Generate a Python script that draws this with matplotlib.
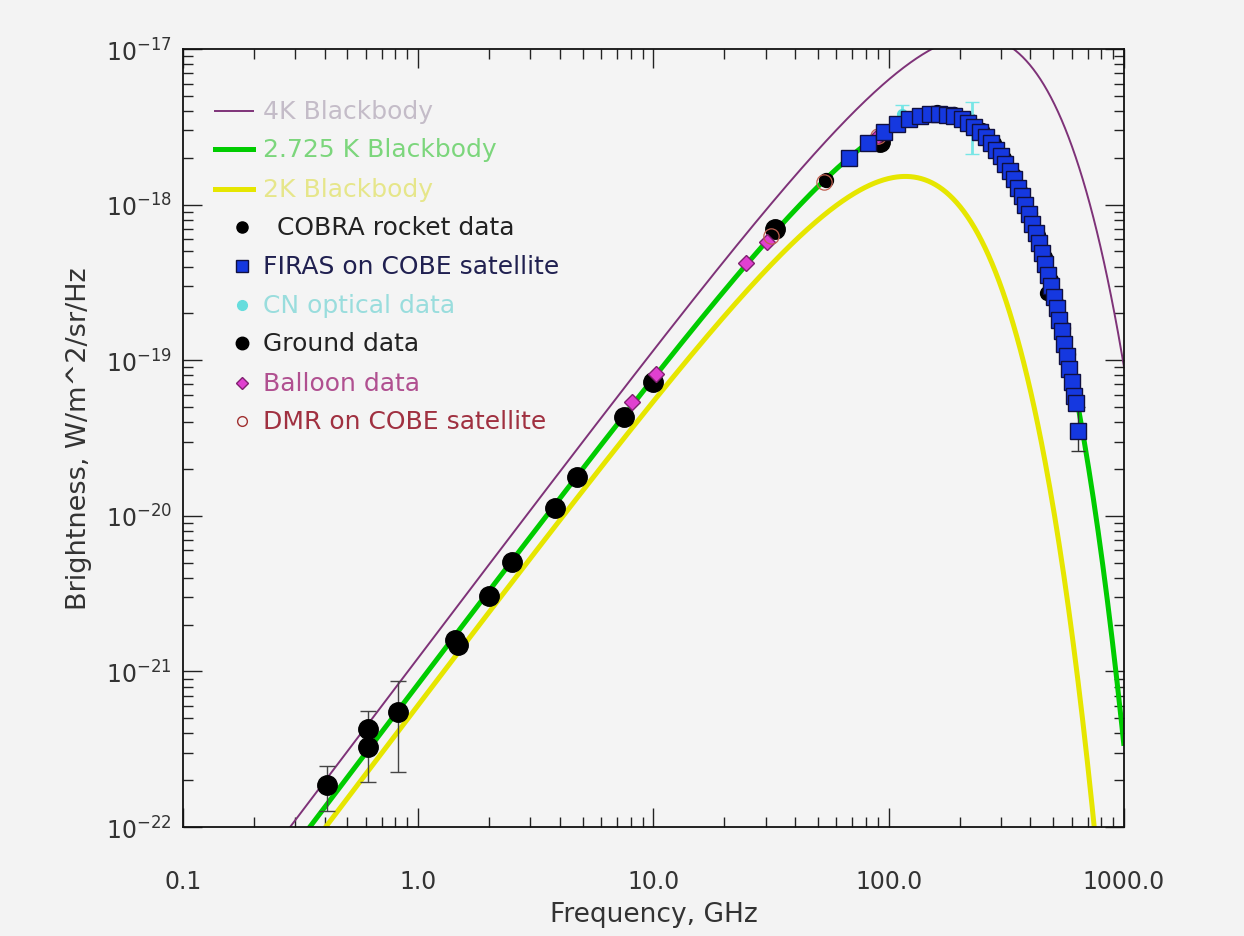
import numpy as np
import matplotlib
matplotlib.use("Agg")
import matplotlib.pyplot as plt
from matplotlib.ticker import FixedLocator, FixedFormatter, LogLocator, NullFormatter

plt.rcParams['font.family'] = ['DejaVu Sans']

# blackbody temperatures (K) for the three curves
temps = [4.0, 2.725, 2.0]
curve_labels = ["4K Blackbody", "2.725 K Blackbody", "2K Blackbody"]
curve_colors = ['#7e3278', '#00cc00', '#e6e600']
curve_widths = [1.4, 3.6, 3.6]

# FIRAS on COBE (GHz, W/m^2/sr/Hz x 1e-20)
firas_f = [68.1, 81.5, 95.3, 108.8, 122.3, 136.1, 149.6, 163.4, 176.9, 190.4,
           204.2, 217.6, 231.1, 244.9, 258.4, 272.2, 285.7, 299.2, 313.0, 326.5,
           340.0, 353.8, 367.2, 381.0, 394.5, 408.0, 421.8, 435.3, 448.8, 462.6,
           476.1, 489.9, 503.4, 516.8, 530.6, 544.1, 557.9, 571.4, 584.9, 598.7,
           612.2, 625.7, 639.5]
firas_b = [200.7, 249.5, 293.0, 327.8, 354.1, 372.1, 381.5, 383.5, 378.9, 368.8,
           354.1, 336.3, 316.1, 293.9, 271.4, 248.2, 225.9, 204.3, 183.3, 163.8,
           145.8, 128.8, 113.6, 99.5, 86.8, 75.6, 65.5, 56.5, 48.6, 41.5,
           35.5, 30.2, 25.6, 21.6, 18.2, 15.3, 12.8, 10.7, 8.8, 7.2,
           5.9, 5.3, 3.5]

# COBRA rocket data
cobra_f = [54, 160, 190, 220, 250, 280, 310, 340, 370, 400, 430, 460, 472, 490, 520, 550, 580]
cobra_b = [145, 395, 382, 348, 300, 250, 200, 156, 118, 88, 64, 46, 27, 33, 23, 16, 11]

# ground data
ground_f = [0.408, 0.61, 0.61, 0.82, 1.44, 1.47, 2.0, 2.5, 3.83, 4.75, 7.5, 10.0, 33.0, 92.0]
ground_b = [0.0187, 0.0427, 0.0327, 0.055, 0.16, 0.148, 0.305, 0.505, 1.12, 1.78, 4.3, 7.2, 70.0, 252.0]
ground_lo = [0.0127, 0.0327, 0.0195, 0.0226, 0.16, 0.148, 0.305, 0.505, 1.12, 1.78, 4.3, 7.2, 70.0, 252.0]
ground_hi = [0.0247, 0.056, 0.0427, 0.087, 0.16, 0.148, 0.305, 0.505, 1.12, 1.78, 4.3, 7.2, 70.0, 252.0]

# balloon data
balloon_f = [8.1, 10.3, 24.8, 30.5, 90.0]
balloon_b = [5.4, 8.1, 42.0, 57.5, 278.0]

# DMR on COBE
dmr_f = [31.5, 53.0, 90.0]
dmr_b = [63.0, 140.0, 275.0]

# CN optical data
cn_f = [113.6, 227.0]
cn_b = [380.0, 300.0]
cn_lo = [330.0, 210.0]
cn_hi = [440.0, 460.0]

scale = 1e-20
h = 6.626e-34
k = 1.381e-23
c = 2.998e8

fig = plt.figure(figsize=(12.44, 9.37), dpi=100, facecolor='#f3f3f3')
ax = fig.add_axes([0.147, 0.1163, 0.7565, 0.8303])
ax.set_facecolor('#f4f4f4')

nu = np.logspace(-1, 3, 800)
for T, col, lw in zip(temps, curve_colors, curve_widths):
    x = h * nu * 1e9 / (k * T)
    B = 2 * h * (nu * 1e9) ** 3 / c ** 2 / np.expm1(x)
    ax.plot(nu, B, color=col, lw=lw, zorder=2, solid_capstyle='butt')

gf = np.array(ground_f)
gb = np.array(ground_b) * scale
ax.errorbar(gf, gb, yerr=[gb - np.array(ground_lo) * scale, np.array(ground_hi) * scale - gb],
            fmt='none', ecolor='#444444', elinewidth=1.0, capsize=6, zorder=3)
ax.plot(cobra_f, np.array(cobra_b) * scale, 'o', color='black', ms=10, zorder=3)
cb = np.array(cn_b) * scale
ax.errorbar(cn_f, cb, yerr=[cb - np.array(cn_lo) * scale, np.array(cn_hi) * scale - cb],
            fmt='o', color='#55dddd', ms=7, ecolor='#77e6e6', elinewidth=2, capsize=5, zorder=3)
ax.plot(ground_f, gb, 'o', color='black', ms=14, zorder=4)
ax.plot(balloon_f, np.array(balloon_b) * scale, 'D', color='#e040d0', mec='#802070',
        ms=8, mew=1, zorder=5)
ax.plot(dmr_f, np.array(dmr_b) * scale, 'o', mfc='none', mec='#c06050', ms=11, mew=0.9, zorder=5)
fb = np.array(firas_b) * scale
ax.errorbar(firas_f[-1], fb[-1], yerr=[[fb[-1] - 2.6e-20], [1.5e-20]], fmt='none',
            ecolor='#333333', elinewidth=1, capsize=5, zorder=5)
ax.plot(firas_f, fb, 's', color='#1538e0', mec='#101040', ms=11.5, mew=1, zorder=6)

ax.set_xscale('log')
ax.set_yscale('log')
ax.set_xlim(0.1, 1000)
ax.set_ylim(1e-22, 1e-17)

ax.xaxis.set_major_locator(FixedLocator([0.1, 1, 10, 100, 1000]))
ax.xaxis.set_major_formatter(FixedFormatter(["0.1", "1.0", "10.0", "100.0", "1000.0"]))
ax.xaxis.set_minor_locator(LogLocator(base=10, subs=np.arange(2, 10)))
ax.xaxis.set_minor_formatter(NullFormatter())
ax.yaxis.set_major_locator(FixedLocator([1e-22, 1e-21, 1e-20, 1e-19, 1e-18, 1e-17]))
ax.yaxis.set_major_formatter(FixedFormatter([r"$10^{-22}$", r"$10^{-21}$", r"$10^{-20}$",
                                             r"$10^{-19}$", r"$10^{-18}$", r"$10^{-17}$"]))
ax.yaxis.set_minor_locator(LogLocator(base=10, subs=np.arange(2, 10)))
ax.yaxis.set_minor_formatter(NullFormatter())
ax.tick_params(which='both', direction='in', top=True, right=True, color='#222222')
ax.tick_params(which='major', length=14, width=1.0, labelsize=17, labelcolor='#333333')
ax.tick_params(axis='x', which='major', pad=30)
ax.tick_params(axis='y', which='major', pad=8)
ax.tick_params(which='minor', length=7, width=1.0)
for s in ax.spines.values():
    s.set_color('#111111')
    s.set_linewidth(1.3)

ax.set_xlabel("Frequency, GHz", fontsize=19, color='#333333', labelpad=6)
ax.set_ylabel("Brightness, W/m^2/sr/Hz", fontsize=19.5, color='#333333', labelpad=10)

# legend drawn by hand
line_y = [0.920, 0.871, 0.820]
text_cols = ['#c4bcc8', '#7cd67c', '#e6e68a']
for yy, col, lw, lab, tc in zip(line_y, curve_colors, curve_widths, curve_labels, text_cols):
    ax.plot([0.034, 0.074], [yy, yy], color=col, lw=lw, transform=ax.transAxes, zorder=7)
    ax.text(0.085, yy, lab, transform=ax.transAxes, fontsize=18, color=tc, va='center')

mk_y = [0.771, 0.721, 0.671, 0.622, 0.571, 0.522]
mk_style = [dict(marker='o', color='black', ms=8),
            dict(marker='s', color='#1538e0', mec='#101040', ms=8),
            dict(marker='o', color='#66dddd', ms=7),
            dict(marker='o', color='black', ms=9),
            dict(marker='D', color='#e040d0', mec='#802070', ms=6),
            dict(marker='o', mfc='none', mec='#a03030', ms=7)]
mk_text = ["COBRA rocket data", "FIRAS on COBE satellite", "CN optical data",
           "Ground data", "Balloon data", "DMR on COBE satellite"]
mk_tcol = ['#222222', '#202050', '#99dddd', '#222222', '#b05090', '#a03040']
mk_tx = [0.100, 0.085, 0.085, 0.085, 0.085, 0.085]
for yy, st, t, tc, tx in zip(mk_y, mk_style, mk_text, mk_tcol, mk_tx):
    ax.plot([0.0627], [yy], linestyle='none', transform=ax.transAxes, zorder=7, **st)
    ax.text(tx, yy, t, transform=ax.transAxes, fontsize=18, color=tc, va='center')

fig.savefig("out.png", dpi=100, facecolor=fig.get_facecolor())
